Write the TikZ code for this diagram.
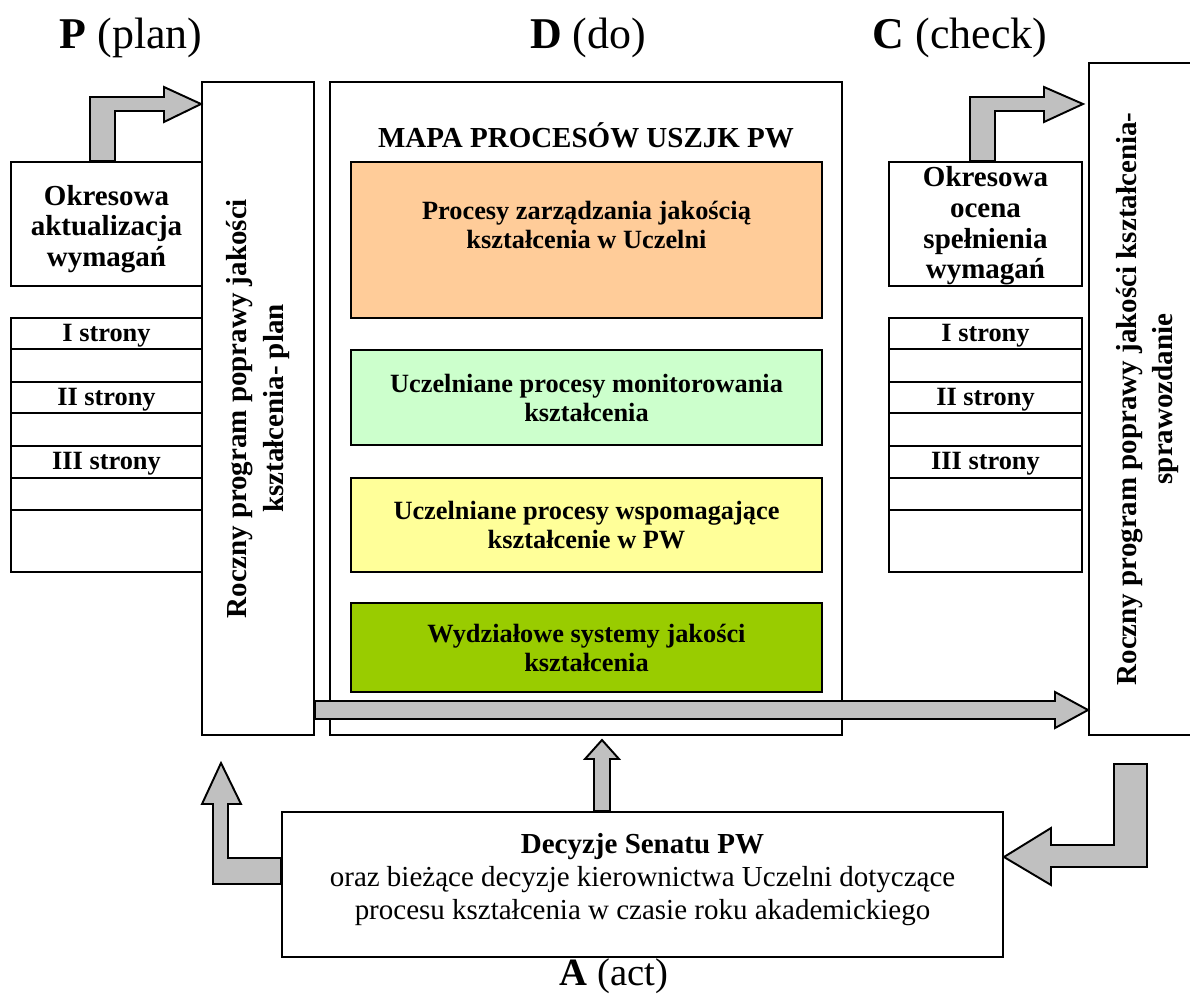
\documentclass[tikz,border=0pt]{standalone}
\usepackage{fontspec}
\setmainfont{Liberation Serif}
\usetikzlibrary{fit,calc}

\definecolor{arrowgray}{HTML}{C0C0C0}
\definecolor{zarzfill}{HTML}{FFCC99}
\definecolor{monitfill}{HTML}{CCFFCC}
\definecolor{wspomfill}{HTML}{FFFF99}
\definecolor{wydzfill}{HTML}{99CC00}

\tikzset{
  box/.style={draw, line width=1.1pt, inner sep=0pt},
  fat/.style={draw, line width=1.1pt, fill=arrowgray, line join=miter},
  head/.style={font=\fontsize{25}{30}\selectfont},
  sidetxt/.style={font=\fontsize{16.5}{17.5}\selectfont\bfseries, align=center},
  rowtxt/.style={font=\fontsize{15}{17}\selectfont\bfseries},
  proctxt/.style={font=\fontsize{15}{16.5}\selectfont\bfseries, align=center},
  vtxt/.style={font=\fontsize{16.5}{21}\selectfont\bfseries, align=center, rotate=90},
  acttxt/.style={font=\fontsize{16.5}{19}\selectfont, align=center},
}

\begin{document}
\begin{tikzpicture}[x=0.02cm, y=-0.02cm]
    \useasboundingbox (0,0) rectangle (1190,994);

    % PDCA
    \node[head] (hp) at (131,38) {\textbf{P} (plan)};
    \node[head] (hd) at (588,38) {\textbf{D} (do)};
    \node[head] (hc) at (960,38) {\textbf{C} (check)};
    \node[head, font=\fontsize{22}{26}\selectfont] (ha) at (614,976) {\textbf{A} (act)};

    % plan
    \node[box, fit={(202,82) (314,735)}] (plan) {};
    \node[vtxt] at (plan.center) {Roczny program poprawy jakości\\kształcenia- plan};
    \node[box, fit={(11,162) (202,286)}] (aktual) {};
    \node[sidetxt] at ($(aktual.center)+(0,5)$) {Okresowa\\aktualizacja\\wymagań};
    \foreach \ya/\yb/\txt [count=\i] in {318/349/I strony, 349/382/{}, 382/413/II strony,
        413/446/{}, 446/478/III strony, 478/510/{}, 510/572/{}}{
        \node[box, fit={(11,\ya) (202,\yb)}] (lt\i) {};
        \node[rowtxt] at ($(lt\i.center)+(0,2)$) {\txt};
    }

    % check
    \node[box, fit={(1089,63) (1206,735)}] (spraw) {};
    \node[vtxt] at (spraw.center) {Roczny program poprawy jakości kształcenia-\\sprawozdanie};
    \node[box, fit={(889,162) (1082,286)}] (ocena) {};
    \node[sidetxt] at ($(ocena.center)+(0,2)$) {Okresowa\\ocena\\spełnienia\\wymagań};
    \foreach \ya/\yb/\txt [count=\i] in {318/349/I strony, 349/382/{}, 382/413/II strony,
        413/446/{}, 446/478/III strony, 478/510/{}, 510/572/{}}{
        \node[box, fit={(889,\ya) (1082,\yb)}] (rt\i) {};
        \node[rowtxt] at ($(rt\i.center)+(0,2)$) {\txt};
    }

    % do
    \node[box, fit={(330,82) (842,735)}] (mapa) {};
    \node[font=\fontsize{16.5}{19}\selectfont\bfseries] (mapatyt) at (586,135) {MAPA PROCESÓW USZJK PW};
    \node[box, fill=zarzfill, fit={(351,162) (822,318)}] (zarz) {};
    \node[proctxt] at ($(zarz.north)+(0,64)$) {Procesy zarządzania jakością\\kształcenia w Uczelni};
    \node[box, fill=monitfill, fit={(351,350) (822,445)}] (monit) {};
    \node[proctxt] at (monit.center) {Uczelniane procesy monitorowania\\kształcenia};
    \node[box, fill=wspomfill, fit={(351,478) (822,572)}] (wspom) {};
    \node[proctxt] at (wspom.center) {Uczelniane procesy wspomagające\\kształcenie w PW};
    \node[box, fill=wydzfill, fit={(351,603) (822,692)}] (wydz) {};
    \node[proctxt] at (wydz.center) {Wydziałowe systemy jakości\\kształcenia};

    % act
    \node[box, fit={(282,812) (1003,957)}] (senat) {};
    \node[acttxt] at ($(senat.center)+(0,-5)$) {\textbf{Decyzje Senatu PW}\\oraz bieżące decyzje kierownictwa Uczelni dotyczące\\procesu kształcenia w czasie roku akademickiego};

    % strzalki
    \draw[fat] (aktual.north -| 90,0) -- (90,97) -- (164,97) -- (164,87) -- (plan.west |- 0,104)
        -- (164,122) -- (164,111) -- (115,111) -- (aktual.north -| 115,0) -- cycle;
    \draw[fat] (ocena.north -| 970,0) -- (970,97) -- (1044,97) -- (1044,87) -- (1083,104)
        -- (1044,122) -- (1044,111) -- (995,111) -- (ocena.north -| 995,0) -- cycle;
    \draw[fat] (plan.east |- 0,701) -- (1055,701) -- (1055,692) -- (spraw.west |- 0,710)
        -- (1055,728) -- (1055,719) -- (plan.east |- 0,719) -- cycle;
    \draw[fat] (senat.north -| 594,0) -- (594,759) -- (585,759) -- (602,740) -- (619,759)
        -- (610,759) -- (senat.north -| 610,0) -- cycle;
    \draw[fat] (senat.west |- 0,884) -- (213,884) -- (213,804) -- (202,804) -- (221,763)
        -- (241,804) -- (228,804) -- (228,858) -- (senat.west |- 0,858) -- cycle;
    \draw[fat] (1114,764) -- (1147,764) -- (1147,867) -- (1051,867) -- (1051,885)
        -- (senat.east |- 0,857) -- (1051,828) -- (1051,845) -- (1114,845) -- cycle;
\end{tikzpicture}
\end{document}
